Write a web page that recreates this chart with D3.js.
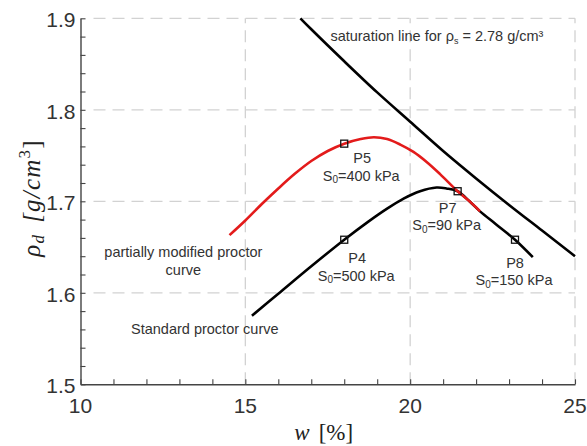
<!DOCTYPE html>
<html>
<head>
<meta charset="utf-8">
<script src="https://cdn.jsdelivr.net/npm/d3@7"></script>
<style>
  html, body { margin: 0; padding: 0; background: #fff; }
  svg { display: block; }
</style>
</head>
<body>
<svg id="chart" width="587" height="446"></svg>
<script>
// Water content w [%] against dry density rho_d [g/cm3]
const saturationW   = [16.67, 17, 18, 19, 20, 21, 22, 23, 24, 25];
const saturationRho = [1.900, 1.888, 1.853, 1.819, 1.787, 1.755, 1.725, 1.696, 1.668, 1.640];

const modifiedW   = [14.52, 15.0, 15.5, 16.0, 16.5, 17.0, 17.5, 18.0, 18.5, 18.9, 19.3, 19.7, 20.1, 20.5, 20.9, 21.44, 21.8, 22.12];
const modifiedRho = [1.663, 1.679, 1.697, 1.714, 1.730, 1.744, 1.755, 1.763, 1.768, 1.770, 1.768, 1.762, 1.754, 1.743, 1.730, 1.711, 1.700, 1.689];

const standardW   = [15.2, 16.0, 17.0, 18.0, 18.7, 19.3, 19.8, 20.3, 20.8, 21.1, 21.44, 21.8, 22.12, 22.6, 23.18, 23.72];
const standardRho = [1.575, 1.599, 1.629, 1.658, 1.677, 1.692, 1.703, 1.711, 1.715, 1.714, 1.711, 1.700, 1.689, 1.675, 1.658, 1.639];

const pointNames = ["P4", "P5", "P7", "P8"];
const pointW     = [18.0, 18.0, 21.44, 23.18];
const pointRho   = [1.658, 1.763, 1.711, 1.658];
const pointS0    = [500, 400, 90, 150];

const xTicks = [10, 15, 20, 25];
const yTicks = [1.5, 1.6, 1.7, 1.8, 1.9];

const svg = d3.select("#chart");
const plotL = 80.5, plotR = 575, plotT = 18.3, plotB = 384.3;

const x = d3.scaleLinear().domain([10, 25]).range([plotL, plotR]);
const y = d3.scaleLinear().domain([1.5, 1.9]).range([plotB, plotT]);

const textColor = "#333";
const sans = "'Liberation Sans', Arial, sans-serif";
const serif = "'Liberation Serif', 'Times New Roman', serif";

// dashed grid at the major ticks
const grid = svg.append("g").attr("stroke", "#d2d2d2").attr("stroke-width", 1.3)
  .attr("stroke-dasharray", "12,7").attr("fill", "none");
grid.selectAll("line.gx").data(xTicks.filter(t => t > 10)).join("line")
  .attr("class", "gx")
  .attr("x1", d => x(d)).attr("x2", d => x(d))
  .attr("y1", plotB).attr("y2", plotT);
grid.selectAll("line.gy").data(yTicks.filter(t => t > 1.5)).join("line")
  .attr("class", "gy")
  .attr("y1", d => y(d)).attr("y2", d => y(d))
  .attr("x1", plotL + 13).attr("x2", plotR);

// axes with inward ticks (minor ticks every 1 % and every 0.02 g/cm3)
const xAxis = d3.axisBottom(x).tickValues(d3.range(10, 25.001, 1))
  .tickSize(-5).tickSizeOuter(0).tickFormat("");
const yAxis = d3.axisLeft(y).tickValues(d3.range(1.5, 1.9001, 0.02))
  .tickSize(-5).tickSizeOuter(0).tickFormat("");

const gx = svg.append("g").attr("transform", `translate(0,${plotB})`).call(xAxis);
const gy = svg.append("g").attr("transform", `translate(${plotL},0)`).call(yAxis);
[gx, gy].forEach(g => {
  g.select(".domain").attr("stroke", "#444").attr("stroke-width", 1.4);
  g.selectAll(".tick line").attr("stroke", "#444").attr("stroke-width", 1.1);
});

// tick labels
svg.append("g").selectAll("text").data(xTicks).join("text")
  .attr("x", d => x(d)).attr("y", plotB + 29)
  .attr("text-anchor", "middle")
  .attr("font-family", sans).attr("font-size", 21).attr("fill", textColor)
  .text(d => d);
svg.append("g").selectAll("text").data(yTicks).join("text")
  .attr("x", plotL - 5).attr("y", d => y(d) + 9)
  .attr("text-anchor", "end")
  .attr("font-family", sans).attr("font-size", 21).attr("fill", textColor)
  .text(d => d.toFixed(1));

// axis titles
const xt = svg.append("text")
  .attr("x", (plotL + plotR) / 2 - 4).attr("y", 440)
  .attr("text-anchor", "middle")
  .attr("font-family", serif).attr("font-size", 23).attr("fill", "#222");
xt.append("tspan").attr("font-style", "italic").text("w");
xt.append("tspan").attr("dx", 9).text("[%]");

const yt = svg.append("text")
  .attr("transform", "translate(40,198) rotate(-90)")
  .attr("text-anchor", "middle")
  .attr("font-family", serif).attr("font-size", 25).attr("fill", "#222")
  .attr("font-style", "italic").attr("letter-spacing", 1.2);
yt.append("tspan").text("\u03C1");
yt.append("tspan").attr("font-size", 17).attr("dy", 4).text("d");
yt.append("tspan").attr("dy", -4).attr("dx", 11).text("[g/cm");
yt.append("tspan").attr("font-size", 17).attr("dy", -10).attr("font-style", "normal").text("3");
yt.append("tspan").attr("dy", 10).attr("font-style", "normal").text("]");

// curves
const line = d3.line().x(d => x(d[0])).y(d => y(d[1])).curve(d3.curveCatmullRom.alpha(0.5));
const curves = [
  { w: saturationW, rho: saturationRho, color: "#000" },
  { w: standardW,   rho: standardRho,   color: "#000" },
  { w: modifiedW,   rho: modifiedRho,   color: "#e31b1b" }
];
svg.append("g").selectAll("path").data(curves).join("path")
  .attr("d", c => line(d3.zip(c.w, c.rho)))
  .attr("fill", "none")
  .attr("stroke", c => c.color)
  .attr("stroke-width", 2.6)
  .attr("stroke-linecap", "butt");

// test points
const pts = pointNames.map((n, i) => ({ name: n, w: pointW[i], rho: pointRho[i], s0: pointS0[i] }));
svg.append("g").selectAll("rect").data(pts).join("rect")
  .attr("x", d => x(d.w) - 3.5).attr("y", d => y(d.rho) - 3.5)
  .attr("width", 7).attr("height", 7)
  .attr("fill", "none").attr("stroke", "#111").attr("stroke-width", 1.3);

// point labels, offset from each marker in pixels
const labelOffset = { P4: [13, 23.5], P5: [18, 19.5], P7: [-10, 21.5], P8: [0, 28] };
const lab = svg.append("g").attr("font-family", sans).attr("font-size", 14.5)
  .attr("fill", textColor).attr("text-anchor", "middle");
pts.forEach(d => {
  const [dx, dy] = labelOffset[d.name];
  const cx = x(d.w) + dx, cy = y(d.rho) + dy;
  lab.append("text").attr("x", cx).attr("y", cy).text(d.name);
  const t = lab.append("text").attr("x", cx - 1).attr("y", cy + 17.5);
  t.append("tspan").text("S");
  t.append("tspan").attr("font-size", 10).attr("dy", 2.5).text("0");
  t.append("tspan").attr("dy", -2.5).text(`=${d.s0} kPa`);
});

// curve names
const names = svg.append("g").attr("font-family", sans).attr("font-size", 14.5).attr("fill", textColor);
names.append("text").attr("x", x(13.12)).attr("y", y(1.639)).attr("text-anchor", "middle")
  .text("partially modified proctor");
names.append("text").attr("x", x(13.12)).attr("y", y(1.619)).attr("text-anchor", "middle")
  .text("curve");
names.append("text").attr("x", x(13.77)).attr("y", y(1.555)).attr("text-anchor", "middle")
  .text("Standard proctor curve");
const sat = names.append("text").attr("x", x(17.58)).attr("y", y(1.875));
sat.append("tspan").text("saturation line for \u03C1");
sat.append("tspan").attr("font-size", 9).attr("dy", 2.5).text("s");
sat.append("tspan").attr("dy", -2.5).text(" = 2.78 g/cm\u00B3");
</script>
</body>
</html>
